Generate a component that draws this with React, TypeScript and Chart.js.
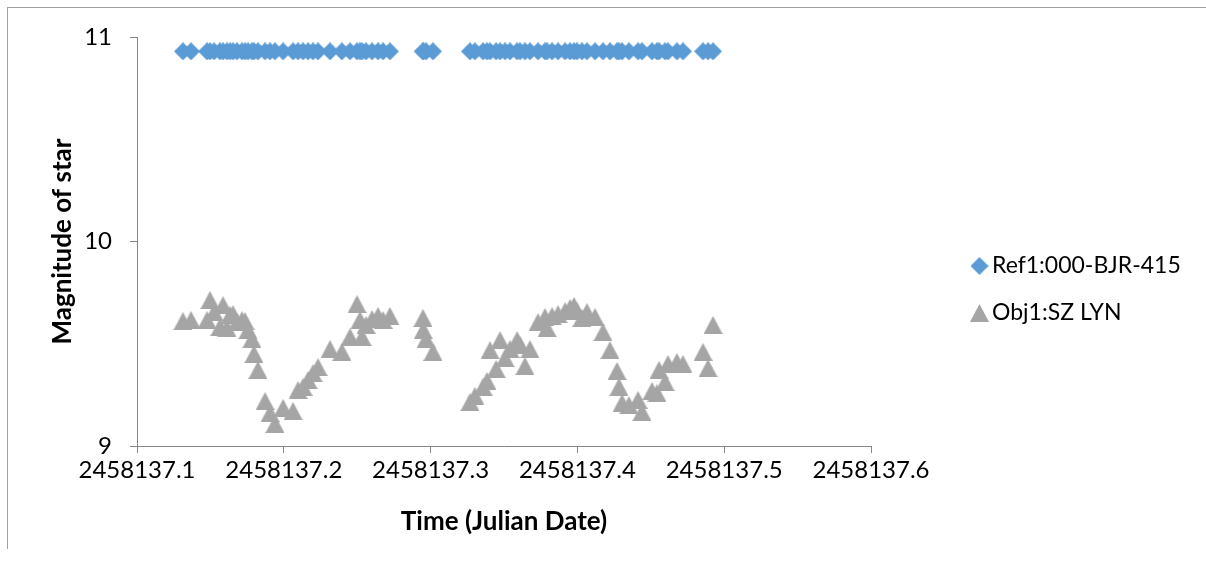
import React, { useEffect, useRef } from 'react';
import { Chart, registerables } from 'chart.js';

Chart.register(...registerables);

// Observation times (Julian Date)
const TIMES = [
  2458137.1313, 2458137.1368, 2458137.1477, 2458137.1497, 2458137.1525, 2458137.1565, 2458137.1586,
  2458137.1613, 2458137.1634, 2458137.1654, 2458137.1681, 2458137.1715, 2458137.1736, 2458137.1756,
  2458137.1783, 2458137.1797, 2458137.1824, 2458137.1872, 2458137.1906, 2458137.1940, 2458137.1995,
  2458137.2063, 2458137.2097, 2458137.2131, 2458137.2165, 2458137.2199, 2458137.2233, 2458137.2315,
  2458137.2396, 2458137.2451, 2458137.2499, 2458137.2519, 2458137.2533, 2458137.2560, 2458137.2601,
  2458137.2642, 2458137.2676, 2458137.2723, 2458137.2948, 2458137.2950, 2458137.2969, 2458137.3016,
  2458137.3268, 2458137.3302, 2458137.3357, 2458137.3384, 2458137.3405, 2458137.3446, 2458137.3473,
  2458137.3507, 2458137.3541, 2458137.3589, 2458137.3609, 2458137.3643, 2458137.3677, 2458137.3732,
  2458137.3779, 2458137.3793, 2458137.3827, 2458137.3868, 2458137.3916, 2458137.3950, 2458137.3977,
  2458137.3997, 2458137.4031, 2458137.4065, 2458137.4120, 2458137.4174, 2458137.4222, 2458137.4270,
  2458137.4283, 2458137.4304, 2458137.4351, 2458137.4413, 2458137.4440, 2458137.4508, 2458137.4542,
  2458137.4556, 2458137.4597, 2458137.4617, 2458137.4678, 2458137.4719, 2458137.4856, 2458137.4890,
  2458137.4924,
];

// Reference star magnitude
const REF_MAG = [
  10.93, 10.93, 10.93, 10.93, 10.93, 10.93, 10.93, 10.93, 10.93, 10.93, 10.93, 10.93, 10.93, 10.93,
  10.93, 10.93, 10.93, 10.93, 10.93, 10.93, 10.93, 10.93, 10.93, 10.93, 10.93, 10.93, 10.93, 10.93,
  10.93, 10.93, 10.93, 10.93, 10.93, 10.93, 10.93, 10.93, 10.93, 10.93, 10.93, 10.93, 10.93, 10.93,
  10.93, 10.93, 10.93, 10.93, 10.93, 10.93, 10.93, 10.93, 10.93, 10.93, 10.93, 10.93, 10.93, 10.93,
  10.93, 10.93, 10.93, 10.93, 10.93, 10.93, 10.93, 10.93, 10.93, 10.93, 10.93, 10.93, 10.93, 10.93,
  10.93, 10.93, 10.93, 10.93, 10.93, 10.93, 10.93, 10.93, 10.93, 10.93, 10.93, 10.93, 10.93, 10.93,
  10.93,
];

// Object (SZ Lyn) magnitude
const OBJ_MAG = [
  9.611, 9.616, 9.616, 9.714, 9.655, 9.582, 9.689, 9.577, 9.641, 9.645, 9.606, 9.616, 9.611, 9.567,
  9.523, 9.450, 9.372, 9.220, 9.161, 9.108, 9.186, 9.171, 9.274, 9.289, 9.323, 9.357, 9.386, 9.474,
  9.460, 9.533, 9.694, 9.616, 9.533, 9.592, 9.621, 9.636, 9.616, 9.636, 9.626, 9.567, 9.523, 9.460,
  9.215, 9.245, 9.289, 9.318, 9.469, 9.377, 9.518, 9.430, 9.474, 9.518, 9.494, 9.391, 9.474, 9.606,
  9.631, 9.577, 9.636, 9.645, 9.660, 9.675, 9.685, 9.660, 9.626, 9.655, 9.631, 9.557, 9.469, 9.367,
  9.289, 9.210, 9.200, 9.225, 9.166, 9.269, 9.259, 9.372, 9.313, 9.401, 9.411, 9.401, 9.460, 9.381,
  9.592,
];

const X_TICKS = [2458137.1, 2458137.2, 2458137.3, 2458137.4, 2458137.5, 2458137.6];
const Y_TICKS = [9, 10, 11];
const SERIES_NAMES = ['Ref1:000-BJR-415', 'Obj1:SZ LYN'];
const X_TITLE = 'Time (Julian Date)';
const Y_TITLE = 'Magnitude of star';

const W = 1206;
const H = 565;
const FONT = 'Lato';
const AXIS_COLOR = '#868686';
const BLUE = '#5B9BD5';
const GRAY = '#A5A5A5';

function makeDiamond(w: number, h: number, color: string) {
  const c = document.createElement('canvas');
  c.width = w;
  c.height = h;
  const g = c.getContext('2d')!;
  g.fillStyle = color;
  g.beginPath();
  g.moveTo(w / 2, 0);
  g.lineTo(w, h / 2);
  g.lineTo(w / 2, h);
  g.lineTo(0, h / 2);
  g.closePath();
  g.fill();
  return c;
}

function makeTriangle(w: number, h: number, color: string) {
  const c = document.createElement('canvas');
  c.width = w;
  c.height = h;
  const g = c.getContext('2d')!;
  g.fillStyle = color;
  g.beginPath();
  g.moveTo(w / 2, 0);
  g.lineTo(w, h);
  g.lineTo(0, h);
  g.closePath();
  g.fill();
  return c;
}

const legendPlace = {
  id: 'legendPlace',
  afterLayout(chart: any) {
    const lg = chart.legend;
    if (!lg) return;
    lg.left = 954.5;
    lg.right = W;
    lg.width = lg.right - lg.left;
    lg.top = 230.5;
    lg.bottom = H;
    lg.height = lg.bottom - lg.top;
  },
};

export default function App() {
  const ref = useRef<HTMLCanvasElement | null>(null);

  useEffect(() => {
    if (!ref.current) return;
    const diamond = makeDiamond(18, 18, BLUE);
    const triangle = makeTriangle(19, 18, GRAY);

    const chart = new Chart(ref.current, {
      type: 'scatter',
      data: {
        datasets: [
          {
            label: SERIES_NAMES[0],
            data: TIMES.map((t, i) => ({ x: t, y: REF_MAG[i] })),
            pointStyle: diamond as any,
            pointRadius: 9,
            backgroundColor: BLUE,
            borderColor: BLUE,
          },
          {
            label: SERIES_NAMES[1],
            data: TIMES.map((t, i) => ({ x: t, y: OBJ_MAG[i] })),
            pointStyle: triangle as any,
            pointRadius: 9,
            backgroundColor: GRAY,
            borderColor: GRAY,
          },
        ],
      },
      options: {
        responsive: false,
        animation: false,
        events: [],
        devicePixelRatio: 1,
        layout: { padding: { left: 0, top: 37, right: 235, bottom: 0 } },
        plugins: {
          tooltip: { enabled: false },
          legend: {
            display: true,
            position: 'right',
            align: 'start',
            maxWidth: 100,
            labels: {
              usePointStyle: true,
              pointStyleWidth: 2,
              padding: 24,
              color: '#000',
              font: { family: FONT, size: 23 },
            },
          },
        },
        scales: {
          x: {
            type: 'linear',
            min: X_TICKS[0],
            max: X_TICKS[X_TICKS.length - 1],
            afterBuildTicks: (scale: any) => {
              scale.ticks = X_TICKS.map((v) => ({ value: v }));
            },
            afterFit: (scale: any) => {
              scale.height = 119;
            },
            ticks: {
              autoSkip: false,
              maxRotation: 0,
              minRotation: 0,
              padding: 3,
              color: '#000',
              font: { family: FONT, size: 24 },
              callback: (v: any) => Number(v).toFixed(1),
            },
            grid: {
              display: true,
              drawOnChartArea: false,
              drawTicks: true,
              tickLength: 7,
              color: AXIS_COLOR,
            },
            border: { display: true, color: AXIS_COLOR, width: 1 },
            title: {
              display: true,
              text: X_TITLE,
              color: '#000',
              font: { family: FONT, size: 26, weight: 'bold' },
              padding: { top: 0, bottom: 28 },
            },
          },
          y: {
            type: 'linear',
            min: Y_TICKS[0],
            max: Y_TICKS[Y_TICKS.length - 1],
            afterBuildTicks: (scale: any) => {
              scale.ticks = Y_TICKS.map((v) => ({ value: v }));
            },
            afterFit: (scale: any) => {
              scale.width = 137;
            },
            ticks: {
              padding: 18,
              color: '#000',
              font: { family: FONT, size: 24 },
              callback: (v: any) => String(v),
            },
            grid: {
              display: true,
              drawOnChartArea: false,
              drawTicks: true,
              tickLength: 7,
              color: AXIS_COLOR,
            },
            border: { display: true, color: AXIS_COLOR, width: 1 },
            title: {
              display: true,
              text: Y_TITLE,
              color: '#000',
              font: { family: FONT, size: 26, weight: 'bold' },
              padding: { top: 47, bottom: 0 },
            },
          },
        },
      } as any,
      plugins: [legendPlace],
    });
    return () => chart.destroy();
  }, []);

  return (
    <div style={{ position: 'absolute', left: 0, top: 0, width: W, height: H, background: '#fff' }}>
      <div
        style={{
          position: 'absolute',
          left: 7,
          top: 7,
          width: W - 7,
          height: 542,
          boxSizing: 'border-box',
          borderLeft: '1px solid #a0a0a0',
          borderTop: '1px solid #a0a0a0',
        }}
      />
      <canvas
        ref={ref}
        width={W}
        height={H}
        style={{ position: 'absolute', left: 0, top: 0, width: W, height: H }}
      />
    </div>
  );
}
